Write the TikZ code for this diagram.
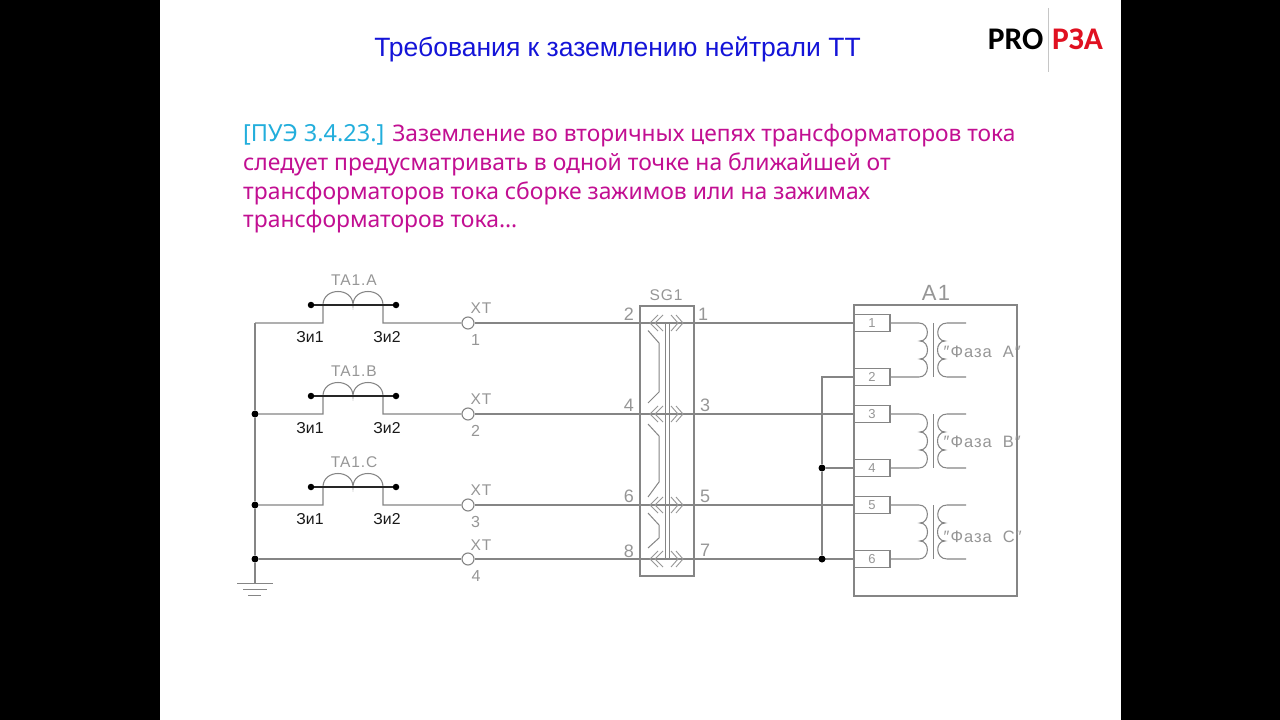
\documentclass[tikz,border=0pt]{standalone}
\usepackage{fontspec}
\setmainfont{Liberation Sans}
\newfontfamily\bodyfont{Noto Sans}
\newfontfamily\logofont{Carlito}
\newfontfamily\cadfont[LetterSpace=6]{Liberation Sans}
\definecolor{wire}{HTML}{858585}
\definecolor{cadtext}{HTML}{969696}
\definecolor{titleblue}{HTML}{1414D8}
\definecolor{bodymag}{HTML}{C20F92}
\definecolor{bodycyan}{HTML}{22AEDC}
\definecolor{logored}{HTML}{E01020}
\tikzset{
  wireline/.style={draw=wire,line width=1.05bp},
  thinline/.style={draw=wire,line width=1bp},
  barline/.style={draw=black!85,line width=1.6bp},
  dotnode/.style={circle,fill=black,inner sep=0,minimum size=7bp},
  xtnode/.style={circle,draw=wire,fill=white,line width=1.1bp,inner sep=0,minimum size=12bp},
  termbox/.style={rectangle,draw=wire,fill=white,line width=1.05bp,inner sep=0,minimum width=36bp,minimum height=16.5bp,text=cadtext,font=\fontsize{13bp}{13bp}\selectfont},
  cadlabel/.style={text=cadtext,inner sep=0,font=\cadfont\fontsize{15.5bp}{16bp}\selectfont},
  pinlabel/.style={text=cadtext,inner sep=0,font=\fontsize{18bp}{18bp}\selectfont},
  zilabel/.style={text=black!90,inner sep=0,font=\fontsize{15.8bp}{16bp}\selectfont},
  bodyline/.style={anchor=west,inner sep=0,text=bodymag,font=\bodyfont\fontsize{22.9bp}{23bp}\selectfont},
  chevron/.style={draw=wire!85,line width=0.9bp},
}
\begin{document}
\begin{tikzpicture}[x=1bp,y=-1bp]
\useasboundingbox (0,0) rectangle (1280,720);
\fill[black] (0,0) rectangle (1280,720);
\fill[white] (160,0) rectangle (1121,720);
% headings
\node[inner sep=0,text=titleblue,font=\fontsize{26.5bp}{27bp}\selectfont] (title) at (617.5,49) {Требования к заземлению нейтрали ТТ};
\node[anchor=east,inner sep=0,font=\logofont\bfseries\fontsize{31.5bp}{32bp}\selectfont,text=black] (logoa) at (1043.5,39) {PRO};
\node[anchor=west,inner sep=0,font=\logofont\bfseries\fontsize{31.5bp}{32bp}\selectfont,text=logored] (logob) at (1052,39) {РЗА};
\coordinate (logot) at (1048,8); \coordinate (logob2) at (1048,72);
\draw[draw=gray!45,line width=1bp] (logot) -- (logob2);
\node[bodyline] (l1) at (243,136) {\textcolor{bodycyan}{\fontsize{23.5bp}{23bp}\selectfont [ПУЭ 3.4.23.]} \fontsize{22.75bp}{23bp}\selectfont Заземление во вторичных цепях трансформаторов тока};
\node[bodyline] (l2) at (243,164.5) {следует предусматривать в одной точке на ближайшей от};
\node[bodyline] (l3) at (243,193) {трансформаторов тока сборке зажимов или на зажимах};
\node[bodyline] (l4) at (243,221.5) {трансформаторов тока…};
% boxes
\node[rectangle,draw=wire,line width=1.05bp,minimum width=54bp,minimum height=270bp,inner sep=0] (sg) at (667,441) {};
\node[rectangle,draw=wire,line width=1.05bp,minimum width=163bp,minimum height=291bp,inner sep=0] (aone) at (935.5,450.5) {};
\node[cadlabel] (sgl) at (666,295) {SG1};
\node[cadlabel,font=\cadfont\fontsize{22bp}{22bp}\selectfont] (al) at (936,293) {A1};
% terminals of A1
\foreach \n/\y in {1/323,2/377,3/414,4/468,5/505,6/559}
  \node[termbox] (t\n) at (872,\y) {\n};
% left bus
\coordinate (bustop) at (255,323);
\coordinate (gnd) at (255,583);
\node[dotnode] (db) at (255,414) {};
\node[dotnode] (dc) at (255,505) {};
\node[dotnode] (dd) at (255,559) {};
\draw[wireline] (bustop) -- (db) -- (dc) -- (dd) -- (gnd);
\coordinate (g1l) at (237,583); \coordinate (g1r) at (273,583);
\coordinate (g2l) at (243,589); \coordinate (g2r) at (267,589);
\coordinate (g3l) at (248,595); \coordinate (g3r) at (261,595);
\draw[thinline] (g1l) -- (g1r) (g2l) -- (g2r) (g3l) -- (g3r);
% current transformers and test points
\foreach \p/\pp/\n/\y/\t/\lab in {A/a/1/323/1/bustop,B/b/2/414/3/db,C/c/3/505/5/dc}{
  \pgfmathsetmacro{\yb}{\y-18}
  \pgfmathsetmacro{\yc}{\yb-18}
  \coordinate (l\pp) at (323,\y); \coordinate (r\pp) at (383,\y);
  \coordinate (il\pp) at (323,\yb); \coordinate (im\pp) at (353,\yb); \coordinate (ir\pp) at (383,\yb);
  \coordinate (c1\pp) at (323,\yc); \coordinate (c2\pp) at (353,\yc); \coordinate (c3\pp) at (383,\yc);
  \node[dotnode,minimum size=6.5bp] (dl\pp) at (311,\yb) {};
  \node[dotnode,minimum size=6.5bp] (dr\pp) at (396,\yb) {};
  \node[xtnode] (xt\n) at (468,\y) {};
  \draw[wireline] (\lab) -- (l\pp) -- (il\pp) .. controls (c1\pp) and (c2\pp) .. (im\pp) .. controls (c2\pp) and (c3\pp) .. (ir\pp) -- (r\pp) -- (xt\n);
  \draw[barline] (dl\pp) -- (dr\pp);
  \pgfmathsetmacro{\ylab}{\y-43}
  \node[cadlabel] (ta\pp) at (354,\ylab) {TA1.\p};
  \pgfmathsetmacro{\yz}{\y+14}
  \node[zilabel] (zl\pp) at (310,\yz) {Зи1};
  \node[zilabel] (zr\pp) at (387,\yz) {Зи2};
  \pgfmathsetmacro{\yx}{\y-14.5}
  \node[cadlabel] (xl\n) at (481,\yx) {XT};
  \pgfmathsetmacro{\yn}{\y+17}
  \node[pinlabel,font=\fontsize{16bp}{16bp}\selectfont] (xn\n) at (475.5,\yn) {\n};
  \draw[wireline] (xt\n) -- (t\t);
}
\node[xtnode] (xt4) at (468,559) {};
\node[cadlabel] (xl4) at (481,545) {XT};
\node[pinlabel,font=\fontsize{16bp}{16bp}\selectfont] (xn4) at (476,576) {4};
\draw[wireline] (dd) -- (xt4) -- (t6);
% A1 return bus
\node[dotnode] (d4) at (822,468) {};
\node[dotnode] (d6) at (822,559) {};
\coordinate (b2) at (822,377);
\draw[wireline] (t2) -- (b2) -- (d4) -- (d6);
\draw[wireline] (d4) -- (t4);
% SG1 inside
\coordinate (s1t) at (665,323); \coordinate (s1b) at (665,559);
\coordinate (s2t) at (669.5,323); \coordinate (s2b) at (669.5,559);
\draw[thinline] (s1t) -- (s1b) (s2t) -- (s2b);
\foreach \i/\y in {1/323,2/414,3/505,4/559}{
  \foreach \dx in {0,5}{
    \draw[chevron] ({658+\dx},\y-8) -- ({650+\dx},\y) -- ({658+\dx},\y+8);
    \draw[chevron] ({671+\dx},\y-8) -- ({678+\dx},\y) -- ({671+\dx},\y+8);
  }
}
\draw[thinline] (648,330.5) -- (659,343) -- (659,392) -- (648,403);
\draw[thinline] (648,424) -- (659,436) -- (659,482) -- (648,497);
\draw[thinline] (648,513) -- (659,525) -- (659,538) -- (648,548);
\foreach \n/\x/\y in {2/629/314,1/703/314,4/629/405,3/705/405,6/629/496,5/705/496,8/629/551,7/705/550}
  \node[pinlabel] (pin\n) at (\x,\y) {\n};
% A1 transformers
\foreach \a/\b/\q/\ya/\yl/\yend in {1/2/A/323/352/377,3/4/B/414/442/468,5/6/C/505/537/559}{
  \pgfmathsetmacro{\h}{(\yend-\ya)/3}
  \pgfmathsetmacro{\ytwo}{\ya+\h}
  \pgfmathsetmacro{\ythree}{\ya+2*\h}
  \draw[wireline] (t\a.east) -- (919,\ya)
    .. controls (930,\ya) and (930,\ytwo) .. (920,\ytwo)
    .. controls (930,\ytwo) and (930,\ythree) .. (920,\ythree)
    .. controls (930,\ythree) and (930,\yend) .. (919,\yend) -- (t\b.east);
  \draw[thinline] (933,\ya) -- (933,\yend);
  \draw[wireline] (966,\ya) -- (947,\ya)
    .. controls (935,\ya) and (935,\ytwo) .. (945,\ytwo)
    .. controls (935,\ytwo) and (935,\ythree) .. (945,\ythree)
    .. controls (935,\ythree) and (935,\yend) .. (947,\yend) -- (966,\yend);
  \node[cadlabel,inner sep=0.5bp,anchor=west,font=\cadfont\fontsize{16.5bp}{17bp}\selectfont] (ph\q) at (943,\yl) {″Фаза\ \ \q″};
}
\end{tikzpicture}
\end{document}
